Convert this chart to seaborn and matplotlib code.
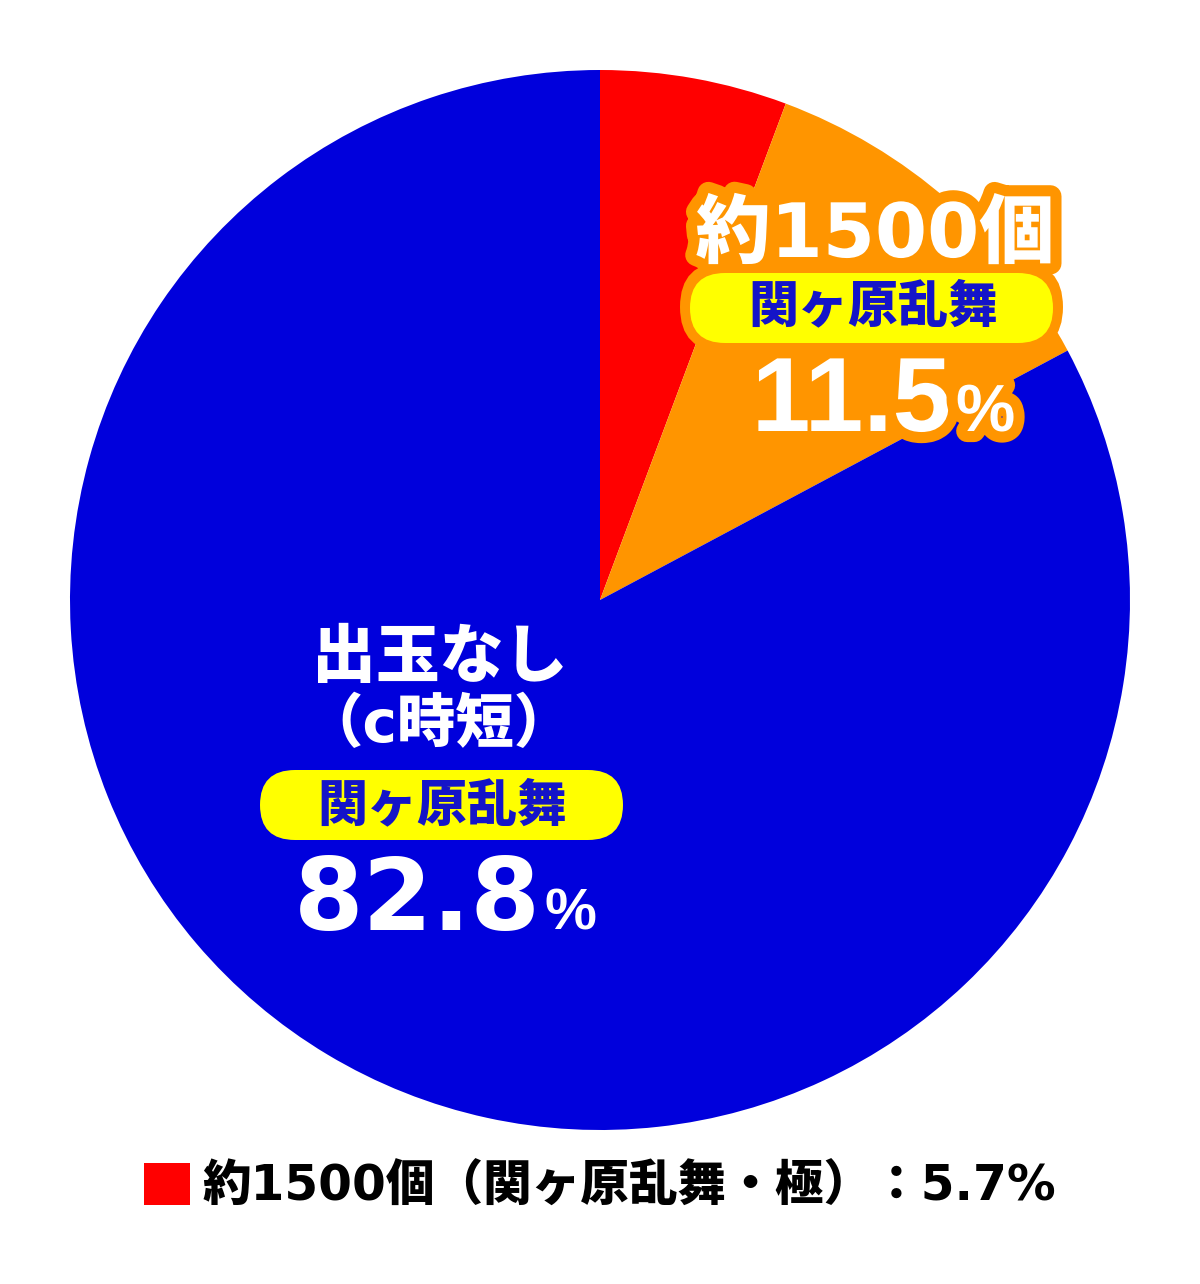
import matplotlib
matplotlib.use("Agg")
import matplotlib.pyplot as plt
import matplotlib.patheffects as pe
from matplotlib.patches import FancyBboxPatch
import seaborn as sns

# ---- data ----
categories = ["約1500個（関ヶ原乱舞・極）", "約1500個", "出玉なし（c時短）"]
values = [5.7, 11.5, 82.8]
colors = ["#FF0000", "#FF9500", "#0000DC"]
route_label = "関ヶ原乱舞"
orange_head = "約1500個"
blue_head1 = "出玉なし"
blue_head2 = "（c時短）"

sns.set_theme(style="white")
CJK = ["DejaVu Sans", "Noto Sans CJK JP"]
plt.rcParams["font.family"] = CJK

W, H = 1200, 1284
fig = plt.figure(figsize=(W / 100, H / 100), dpi=100)
ax = fig.add_axes([0, 0, 1, 1])

def Y(py):
    return H - py

wedges, _ = ax.pie(values, colors=colors, startangle=90, counterclock=False,
                   radius=530, center=(600, Y(600)),
                   wedgeprops=dict(linewidth=0))
ax.set_xlim(0, W)
ax.set_ylim(0, H)
ax.set_aspect("equal")
ax.axis("off")

ORANGE = colors[1]
TXTBLUE = "#1414C8"
stroke = [pe.withStroke(linewidth=16, foreground=ORANGE)]

# ---- orange slice labels ----
ax.text(875, Y(257), orange_head, ha="center", va="baseline", color="white",
        fontsize=54, fontweight="heavy", path_effects=stroke, zorder=5)

# box with orange border
ax.add_patch(FancyBboxPatch((680, Y(352)), 383, 90,
                            boxstyle="round,pad=0,rounding_size=45",
                            fc=ORANGE, ec="none", zorder=4))
ax.add_patch(FancyBboxPatch((690, Y(343)), 363, 70,
                            boxstyle="round,pad=0,rounding_size=35",
                            fc="#FFFF00", ec="none", zorder=5))
ax.text(873, Y(307), route_label, ha="center", va="center", color=TXTBLUE,
        fontsize=36, fontweight="heavy", zorder=6)

pct_o = f"{values[1]:.1f}"
ax.text(951, Y(431), pct_o, ha="right", va="baseline", color="white",
        family=["Liberation Sans", "DejaVu Sans"], fontsize=76,
        fontweight="bold", path_effects=stroke, zorder=5)
ax.text(956, Y(431), "%", ha="left", va="baseline", color="white",
        family=["Liberation Sans", "DejaVu Sans"], fontsize=48,
        fontweight="bold", path_effects=stroke, zorder=5)

# ---- blue slice labels ----
ax.text(440, Y(659), blue_head1, ha="center", va="center", color="white",
        fontsize=46, fontweight="heavy", zorder=5)
ax.text(438, Y(726), blue_head2, ha="center", va="center", color="white",
        fontsize=42, fontweight="heavy", zorder=5)
ax.add_patch(FancyBboxPatch((260, Y(840)), 363, 70,
                            boxstyle="round,pad=0,rounding_size=35",
                            fc="#FFFF00", ec="none", zorder=5))
ax.text(442, Y(806), route_label, ha="center", va="center", color=TXTBLUE,
        fontsize=36, fontweight="heavy", zorder=6)

pct_b = f"{values[2]:.1f}"
ax.text(541, Y(930), pct_b, ha="right", va="baseline", color="white",
        family=["DejaVu Sans"], fontsize=72, fontweight="bold", zorder=5)
ax.text(545, Y(930), "%", ha="left", va="baseline", color="white",
        family=["Liberation Sans", "DejaVu Sans"], fontsize=42,
        fontweight="bold", zorder=5)

# ---- bottom legend for the red slice ----
leg = ax.legend([wedges[0]], [f"{categories[0]}：{values[0]:.1f}%"],
                loc="center", bbox_to_anchor=(600 / W, Y(1187) / H),
                bbox_transform=fig.transFigure, frameon=False,
                handlelength=0.95, handleheight=0.95, handletextpad=0.25,
                prop=dict(family=CJK, weight="heavy", size=35))
for t in leg.get_texts():
    t.set_color("black")

fig.savefig("out.png", dpi=100, facecolor="white")
